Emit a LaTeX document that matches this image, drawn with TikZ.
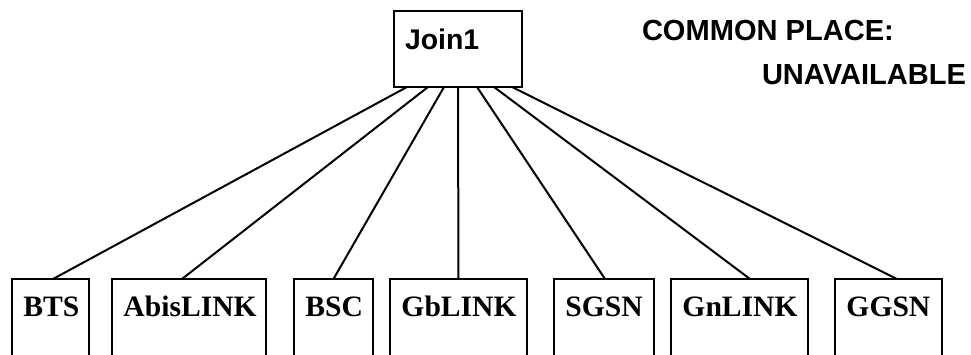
\documentclass[tikz,border=0pt]{standalone}
\usepackage{fontspec}
\setmainfont{Liberation Serif}
\newfontfamily\hdfont{Liberation Sans}
\begin{document}
\begin{tikzpicture}[x=0.75pt,y=-0.75pt,
  every node/.style={inner sep=0pt, outer sep=0pt},
  topbox/.style={draw, line width=1.5pt, anchor=north west, align=left,
     font=\hdfont\bfseries\fontsize{21.3pt}{25pt}\selectfont,
     inner xsep=8.25pt, inner ysep=0pt, text height=28.5pt, text depth=28.5pt},
  leaf/.style={draw, line width=1.5pt, anchor=north west, align=left,
     font=\bfseries\fontsize{22.2pt}{26pt}\selectfont,
     inner xsep=8.6pt, inner ysep=0pt, text height=27.75pt, text depth=60pt},
  note/.style={anchor=base west, font=\hdfont\bfseries\fontsize{21.8pt}{25pt}\selectfont},
  link/.style={line width=1.5pt}]
\useasboundingbox (0,0) rectangle (971,354);
\clip (0,0) rectangle (971,354);
\node[topbox, text width=79.5pt] (join) at (394,11) {Join1};
\node[note] (cp) at (642,40) {COMMON PLACE:};
\node[note] (un) at (762,84) {UNAVAILABLE};
\node[leaf, text width=40.5pt] (bts) at (12,279) {BTS};
\node[leaf, text width=98.25pt] (abis) at (112,279) {AbisLINK};
\node[leaf, text width=42pt] (bsc) at (294,279) {BSC};
\node[leaf, text width=85.5pt] (gb) at (390,279) {GbLINK};
\node[leaf, text width=57.75pt] (sgsn) at (554,279) {SGSN};
\node[leaf, text width=85.5pt] (gn) at (671,279) {GnLINK};
\node[leaf, text width=63pt] (ggsn) at (835,279) {GGSN};
\draw[link] ([xshift=-38.25pt]join.south) -- ([xshift=1.9pt]bts.north);
\draw[link] ([xshift=-22.5pt]join.south) -- ([xshift=-5.25pt]abis.north);
\draw[link] ([xshift=-10.5pt]join.south) -- (bsc.north);
\draw[link] (join.south) -- (gb.north);
\draw[link] ([xshift=14.25pt]join.south) -- ([xshift=0.75pt]sgsn.north);
\draw[link] ([xshift=27pt]join.south) -- ([xshift=7.9pt]gn.north);
\draw[link] ([xshift=40.5pt]join.south) -- ([xshift=6.4pt]ggsn.north);
\end{tikzpicture}
\end{document}
